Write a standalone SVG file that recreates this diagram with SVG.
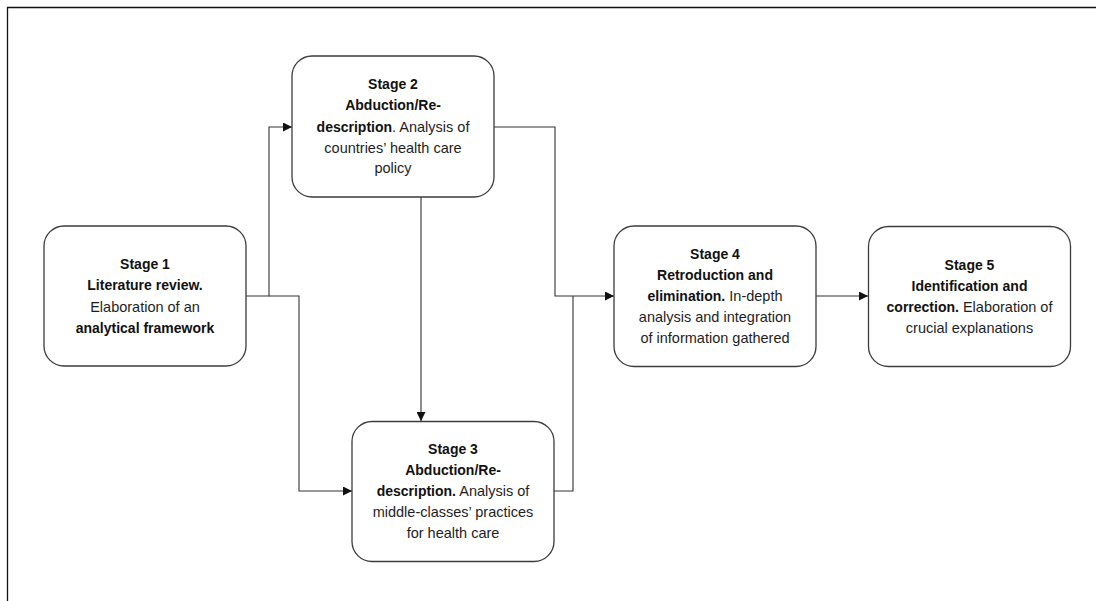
<svg xmlns="http://www.w3.org/2000/svg" width="1096" height="601" viewBox="0 0 1096 601">
  <style>
    .box { fill: #ffffff; stroke: #3c3c3c; stroke-width: 1.3; }
    .wire { fill: none; stroke: #333333; stroke-width: 1.1; }
    text { font-family: "Liberation Sans", Arial, sans-serif; font-size: 14.5px; fill: #1e1e1e; text-anchor: middle; }
    .b { font-weight: bold; fill: #111111; font-size: 14px; }
  </style>
  <defs>
    <marker id="arrow" viewBox="0 0 10 10" refX="10" refY="5" markerWidth="9" markerHeight="9" markerUnits="userSpaceOnUse" orient="auto">
      <path d="M0,0 L10,5 L0,10 Z" fill="#111111"/>
    </marker>
  </defs>

  <rect width="1096" height="601" fill="#ffffff"/>
  <!-- outer frame (top and left edges) -->
  <path d="M7.5,601 V7.5 H1096" fill="none" stroke="#111111" stroke-width="1.3"/>

  <!-- connectors -->
  <g id="connectors">
    <path class="wire" d="M246,296 H269 V127 H292" marker-end="url(#arrow)"/>
    <path class="wire" d="M269,296 H299 V491 H352" marker-end="url(#arrow)"/>
    <path class="wire" d="M494,127 H555 V296 H614" marker-end="url(#arrow)"/>
    <path class="wire" d="M421,197 V421" marker-end="url(#arrow)"/>
    <path class="wire" d="M554,491 H573 V296"/>
    <path class="wire" d="M816,296 H868" marker-end="url(#arrow)"/>
  </g>

  <g id="stage1">
    <rect class="box" x="44" y="226" width="202" height="140" rx="20"/>
    <text x="145" y="269" class="b">Stage 1</text>
    <text x="145" y="290" class="b">Literature review.</text>
    <text x="145" y="311.5">Elaboration of an</text>
    <text x="145" y="332.5" class="b">analytical  framework</text>
  </g>

  <g id="stage2">
    <rect class="box" x="292" y="56" width="202" height="141" rx="20"/>
    <text x="393" y="89" class="b">Stage 2</text>
    <text x="393" y="110" class="b">Abduction/Re-</text>
    <text x="393" y="131.5"><tspan class="b">description</tspan>. Analysis of</text>
    <text x="393" y="152.5">countries’ health care</text>
    <text x="393" y="173">policy</text>
  </g>

  <g id="stage3">
    <rect class="box" x="352" y="421.5" width="202" height="140" rx="20"/>
    <text x="453" y="453.5" class="b">Stage 3</text>
    <text x="453" y="475" class="b">Abduction/Re-</text>
    <text x="453" y="496"><tspan class="b">description.</tspan> Analysis of</text>
    <text x="453" y="517">middle-classes’ practices</text>
    <text x="453" y="538">for health care</text>
  </g>

  <g id="stage4">
    <rect class="box" x="614" y="226" width="202" height="140.5" rx="20"/>
    <text x="715" y="258.5" class="b">Stage 4</text>
    <text x="715" y="279.5" class="b">Retroduction and</text>
    <text x="715" y="301"><tspan class="b">elimination.</tspan> In-depth</text>
    <text x="715" y="321.5">analysis and integration</text>
    <text x="715" y="342.5">of information gathered</text>
  </g>

  <g id="stage5">
    <rect class="box" x="868.5" y="226.5" width="202" height="140" rx="20"/>
    <text x="969.5" y="270" class="b">Stage 5</text>
    <text x="969.5" y="291" class="b">Identification  and</text>
    <text x="969.5" y="311.5"><tspan class="b">correction.</tspan> Elaboration of</text>
    <text x="969.5" y="332.5">crucial explanations</text>
  </g>
</svg>
